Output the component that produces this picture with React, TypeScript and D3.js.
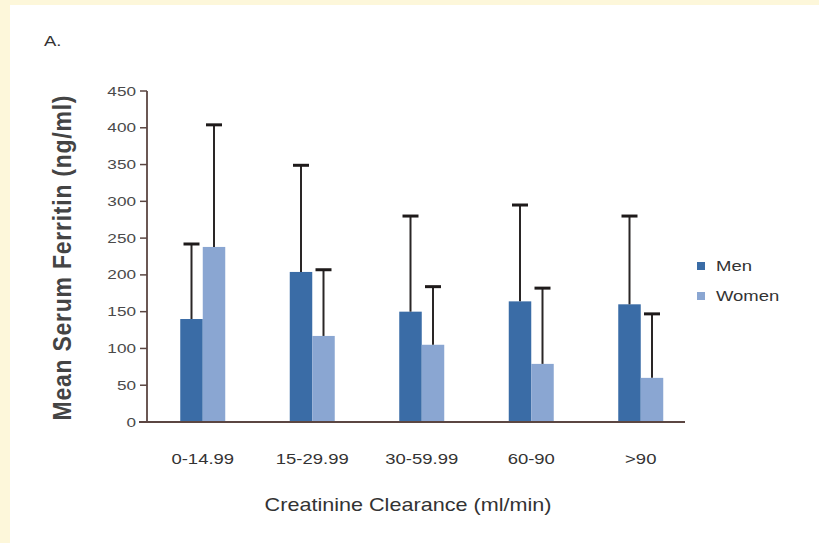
import React from "react";
import * as d3 from "d3";

const categories = ["0-14.99", "15-29.99", "30-59.99", "60-90", ">90"];
const seriesNames = ["Men", "Women"];
const menMeans = [140, 204, 150, 164, 160];
const menUpper = [242, 349, 280, 295, 280];
const womenMeans = [238, 117, 105, 79, 60];
const womenUpper = [404, 207, 184, 182, 147];
const yTicks = [0, 50, 100, 150, 200, 250, 300, 350, 400, 450];

const colors = ["#3a6ca6", "#8aa6d2"];
const FONT = "'Liberation Sans', Arial, sans-serif";
// horizontal glyph widening used for the figure's text
const SX = 1.32;

export default function App() {
  const width = 819;
  const height = 543;
  const y0 = 422;
  const yTop = 91;
  const axisX = 147;

  const y = d3.scaleLinear().domain([0, 450]).range([y0, yTop]);
  const x = d3.scaleBand<string>().domain(categories).range([148, 695.5]).padding(0);
  const barW = 22.5;

  const series = [
    { name: seriesNames[0], means: menMeans, upper: menUpper, color: colors[0], offset: -barW },
    { name: seriesNames[1], means: womenMeans, upper: womenUpper, color: colors[1], offset: 0 },
  ];

  return (
    <div style={{ position: "absolute", left: 0, top: 0, width, height, background: "#fdf7da" }}>
      <svg width={width} height={height} style={{ display: "block" }}>
        <rect x={10} y={5} width={width - 10} height={height - 5} fill="#ffffff" />
        <text transform={`translate(44,46) scale(${SX},1)`} fontFamily={FONT} fontSize={14} fill="#333">A.</text>

        {/* bars */}
        {series.map((s) =>
          categories.map((c, i) => {
            const cx = (x(c) as number) + x.bandwidth() / 2;
            const bx = cx + s.offset;
            return (
              <rect
                key={s.name + c}
                x={bx}
                y={y(s.means[i])}
                width={barW}
                height={y0 - y(s.means[i])}
                fill={s.color}
              />
            );
          })
        )}

        {/* error bars (upper) */}
        {series.map((s) =>
          categories.map((c, i) => {
            const cx = (x(c) as number) + x.bandwidth() / 2 + s.offset + barW / 2;
            return (
              <g key={"e" + s.name + c}>
                <line x1={cx} x2={cx} y1={y(s.means[i])} y2={y(s.upper[i])} stroke="#2a2626" strokeWidth={2} />
                <line x1={cx - 8} x2={cx + 8} y1={y(s.upper[i])} y2={y(s.upper[i])} stroke="#1e1a1a" strokeWidth={3} />
              </g>
            );
          })
        )}

        {/* axes */}
        <line x1={axisX} x2={axisX} y1={yTop} y2={y0} stroke="#5b4642" strokeWidth={1.8} />
        <line x1={139} x2={685} y1={y0} y2={y0} stroke="#5b4642" strokeWidth={1.8} />
        {yTicks.map((t) => (
          <g key={t}>
            <line x1={140} x2={axisX} y1={y(t)} y2={y(t)} stroke="#5b4642" strokeWidth={1.5} />
            <text
              transform={`translate(136,${y(t)}) scale(${SX},1)`}
              dy="0.35em"
              textAnchor="end"
              fontFamily={FONT}
              fontSize={13}
              fill="#4a4a4a"
            >
              {t}
            </text>
          </g>
        ))}
        {categories.map((c) => (
          <text
            key={c}
            transform={`translate(${(x(c) as number) + x.bandwidth() / 2},459) scale(${SX},1)`}
            dy="0.35em"
            textAnchor="middle"
            fontFamily={FONT}
            fontSize={14}
            fill="#333"
          >
            {c}
          </text>
        ))}

        <text
          transform={`translate(408,505) scale(1.2,1)`}
          dy="0.35em"
          textAnchor="middle"
          fontFamily={FONT}
          fontSize={18}
          fill="#333"
        >
          Creatinine Clearance (ml/min)
        </text>
        <text
          transform={`translate(62,258) rotate(-90) scale(1,1.15)`}
          dy="0.35em"
          textAnchor="middle"
          fontFamily={FONT}
          fontSize={23}
          fontWeight="bold"
          fill="#444"
          textLength={325}
          lengthAdjust="spacing"
        >
          Mean Serum Ferritin (ng/ml)
        </text>

        {/* legend */}
        {series.map((s, i) => (
          <g key={"l" + s.name} transform={`translate(697,${266 + i * 30})`}>
            <rect x={0} y={-4} width={8} height={8} fill={s.color} />
            <text transform={`translate(19,0) scale(${SX},1)`} dy="0.35em" fontFamily={FONT} fontSize={14} fill="#333">
              {s.name}
            </text>
          </g>
        ))}
      </svg>
    </div>
  );
}
